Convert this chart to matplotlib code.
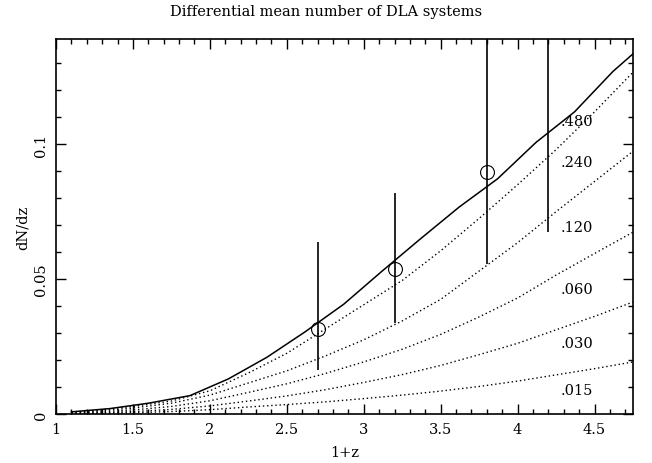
import numpy as np
import matplotlib
matplotlib.use("Agg")
import matplotlib.pyplot as plt
from matplotlib.ticker import MultipleLocator

plt.rcParams['font.family'] = ['DejaVu Serif']

# solid curve (.480)
x_solid = [1.1, 1.35, 1.6, 1.87, 2.12, 2.37, 2.62, 2.87, 3.12, 3.37, 3.62, 3.87, 4.12, 4.37, 4.62, 4.75]
y_solid = [0.0008, 0.002, 0.004, 0.0068, 0.013, 0.021, 0.0305, 0.0407, 0.053, 0.065,
           0.0767, 0.0872, 0.1007, 0.112, 0.127, 0.1335]

# dotted curves
x_dot = [1.1, 1.25, 1.5, 1.75, 2.0, 2.25, 2.5, 2.75, 3.0, 3.25, 3.5, 3.75, 4.0, 4.25, 4.5, 4.75]
y_240 = [0.0007, 0.0013, 0.0028, 0.0048, 0.0086, 0.0152, 0.0225, 0.0315, 0.0405, 0.0495,
         0.0605, 0.0725, 0.0850, 0.0980, 0.1120, 0.1267]
y_120 = [0.0005, 0.0010, 0.0022, 0.0040, 0.0070, 0.0115, 0.0160, 0.0215, 0.0275, 0.0345,
         0.0425, 0.0530, 0.0635, 0.0750, 0.0862, 0.0974]
y_060 = [0.0003, 0.0007, 0.0015, 0.0028, 0.0049, 0.0080, 0.0112, 0.0150, 0.0193, 0.0240,
         0.0295, 0.0360, 0.0430, 0.0515, 0.0595, 0.0674]
y_030 = [0.0002, 0.0004, 0.0009, 0.0017, 0.0030, 0.0048, 0.0067, 0.0090, 0.0117, 0.0146,
         0.0180, 0.0220, 0.0262, 0.0312, 0.0362, 0.0415]
y_015 = [0.0001, 0.0002, 0.0005, 0.0009, 0.0016, 0.0026, 0.0035, 0.0045, 0.0057, 0.0070,
         0.0085, 0.0102, 0.0122, 0.0145, 0.0168, 0.0193]

# observed points
x_obs = [2.7, 3.2, 3.8, 4.2]
y_obs = [0.0315, 0.0537, 0.0896, 0.155]
y_lo = [0.0163, 0.0337, 0.0556, 0.0674]
y_hi = [0.0637, 0.0819, 0.165, 0.25]

labels = ['.480', '.240', '.120', '.060', '.030', '.015']
label_y = [0.1085, 0.0933, 0.0693, 0.0463, 0.0263, 0.0089]

fig = plt.figure(figsize=(6.52, 4.64), dpi=100)
ax = fig.add_axes([0.0859, 0.1056, 0.885, 0.8082])

ax.plot(x_solid, y_solid, color='black', lw=1.1)
for yy in [y_240, y_120, y_060, y_030, y_015]:
    ax.plot(x_dot, yy, color='black', lw=1.0, linestyle=(0, (1, 2)))

ax.vlines(x_obs, y_lo, y_hi, color='black', lw=1.2)
ax.plot(x_obs, y_obs, 'o', mfc='none', mec='black', ms=10, mew=0.8)

for lab, yl in zip(labels, label_y):
    ax.text(4.385, yl, lab, ha='center', va='center', fontsize=10.5)

ax.set_xlim(1, 4.75)
ax.set_ylim(0, 0.139)
ax.xaxis.set_major_locator(MultipleLocator(0.5))
ax.xaxis.set_minor_locator(MultipleLocator(0.1))
ax.yaxis.set_major_locator(MultipleLocator(0.05))
ax.yaxis.set_minor_locator(MultipleLocator(0.01))
ax.set_xticks([1, 1.5, 2, 2.5, 3, 3.5, 4, 4.5])
ax.set_xticklabels(['1', '1.5', '2', '2.5', '3', '3.5', '4', '4.5'])
ax.set_yticks([0, 0.05, 0.1])
ax.set_yticklabels(['0', '0.05', '0.1'], rotation=90, va='center')
ax.tick_params(which='both', direction='in', top=True, right=True, labelsize=10.5, width=1)
ax.tick_params(which='major', length=7, pad=6)
ax.tick_params(which='minor', length=3.5)
for s in ax.spines.values():
    s.set_linewidth(1.2)

ax.set_xlabel('1+z', fontsize=10.5, labelpad=6)
ax.set_ylabel('dN/dz', fontsize=10.5, labelpad=3)
fig.text(0.5, 0.975, 'Differential mean number of DLA systems', ha='center', va='center', fontsize=10.5)

fig.savefig('out.png', dpi=100)
